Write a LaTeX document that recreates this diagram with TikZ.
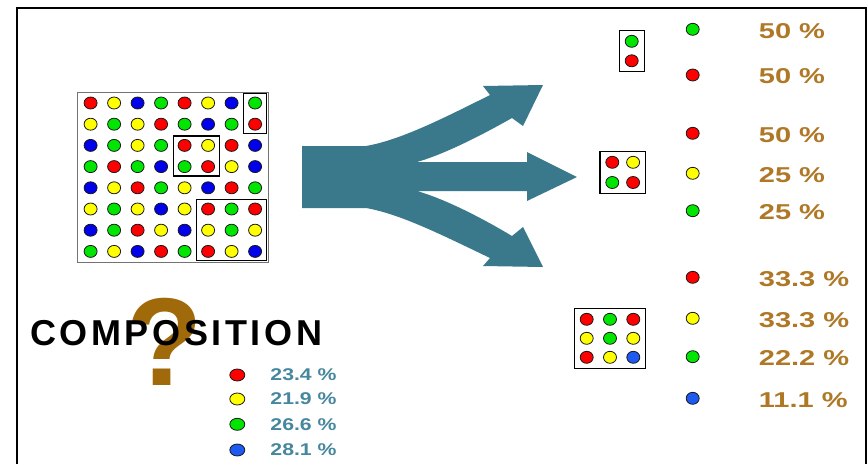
\documentclass[tikz,border=0pt]{standalone}
\usepackage{fontspec}
\setmainfont{Liberation Sans}
\newfontfamily\compfont[LetterSpace=10]{Liberation Sans}
\usetikzlibrary{positioning,fit,shapes.geometric}
\definecolor{cR}{RGB}{255,0,0}
\definecolor{cY}{RGB}{255,255,0}
\definecolor{cG}{RGB}{0,230,0}
\definecolor{cB}{RGB}{0,0,235}
\definecolor{cBl}{RGB}{30,90,240}
\definecolor{flw}{RGB}{58,121,140}
\definecolor{pct}{RGB}{175,120,38}
\definecolor{qst}{RGB}{160,105,10}
\definecolor{lgd}{RGB}{70,135,158}

\begin{document}
\begin{tikzpicture}[x=1pt,y=-1pt,
  dot/.style={ellipse,draw=black!90,line width=0.8pt,inner sep=0pt,minimum width=13pt,minimum height=12pt},
  gridbox/.style={draw=black!55,line width=0.6pt,inner xsep=6pt,inner ysep=4.5pt},
  selbox/.style={draw,line width=1.2pt,inner xsep=4.5pt,inner ysep=3pt},
  smallbox/.style={draw,line width=1.2pt,inner xsep=5.5pt,inner ysep=4.5pt},
  pctlbl/.style={font=\bfseries\fontsize{21.5}{22}\selectfont,text=pct,xscale=1.35,inner sep=0pt,yshift=-1.5pt},
  lgdlbl/.style={font=\bfseries\fontsize{17}{18}\selectfont,text=lgd,xscale=1.25,inner sep=0pt},
  flow/.style={fill=flw}]
  \useasboundingbox (0,0) rectangle (868,464);
  \draw[line width=1.3pt] (17,464) |- (866,8) -- (866,464);
  % mixed sample
  \foreach \row [count=\r] in {{R,Y,B,G,R,Y,B,G},{Y,G,Y,R,G,B,G,R},{B,G,Y,G,R,Y,R,B},{G,R,G,B,G,R,Y,B},{B,Y,R,G,Y,B,R,G},{Y,G,Y,B,Y,R,G,R},{B,G,R,Y,B,Y,G,Y},{G,Y,B,R,G,R,Y,B}}
    \foreach \c [count=\k] in \row
      \node[dot,fill=c\c] (g-\r-\k) at ({90.6+(\k-1)*23.5},{103+(\r-1)*21.2}) {};
  \node[gridbox,fit=(g-1-1)(g-8-8)] (grid) {};
  \node[selbox,fit=(g-1-8)(g-2-8)] (sel2) {};
  \node[selbox,fit=(g-3-5)(g-4-6)] (sel4) {};
  \node[selbox,fit=(g-6-6)(g-8-8)] (sel9) {};
  % splitting arrow
  \fill[flow] (302,146) -- (366,146)
    .. controls (400,140) and (440,120) .. (490,95)
    -- (483,86) -- (543,85) -- (523,126) -- (512,118)
    .. controls (482,135) and (445,154) .. (417,162)
    -- (527,162) -- (527,152) -- (577,177) -- (527,201) -- (527,191) -- (417,191)
    .. controls (445,199) and (482,218) .. (512,236)
    -- (523,227) -- (543,267) -- (483,266) -- (490,258)
    .. controls (440,234) and (400,214) .. (366,208)
    -- (302,208) -- cycle;
  % subsamples
  \node[dot,fill=cG] (a1) at (631.7,41.3) {};
  \node[dot,fill=cR,below=6.7pt of a1] (a2) {};
  \node[smallbox,fit=(a1)(a2)] (boxa) {};
  \node[dot,fill=cR] (b1) at (612.3,162.3) {};
  \node[dot,fill=cY,right=7pt of b1] (b2) {};
  \node[dot,fill=cG,below=7.4pt of b1] (b3) {};
  \node[dot,fill=cR,below=7.4pt of b2] (b4) {};
  \node[smallbox,fit=(b1)(b4)] (boxb) {};
  \foreach \c [count=\k from 0] in {R,G,R,Y,G,Y,R,Y,Bl}
    \node[dot,fill=c\c] (c\k) at ({586.7+mod(\k,3)*23.3},{319.3+int(\k/3)*19}) {};
  \node[smallbox,fit=(c0)(c8)] (boxc) {};
  % fractions
  \foreach \y/\c/\t [count=\i] in {29.3/G/50,75/R/50,133.3/R/50,173.3/Y/25,210.7/G/25,277.3/R/33.3,318.3/Y/33.3,356.7/G/22.2,398.3/Bl/11.1}
  {
    \node[dot,fill=c\c] (d\i) at (692.7,\y) {};
    \node[pctlbl,right=59pt of d\i] (p\i) {\t\ \%};
  }
  \node[font=\bfseries\fontsize{125}{125}\selectfont,text=qst,inner sep=0pt,anchor=base] (qmark) at (165,385) {?};
  \node[font=\compfont\bfseries\fontsize{36}{36}\selectfont,inner sep=0pt,anchor=base west] (title) at (30,345) {COMPOSITION};
  \foreach \y/\c/\t [count=\i] in {375/R/23.4,399/Y/21.9,424.3/G/26.6,450/Bl/28.1}
  {
    \node[dot,minimum width=15pt,fill=c\c] (l\i) at (237.3,\y) {};
    \node[lgdlbl,right=25pt of l\i] (lt\i) {\t\ \%};
  }
\end{tikzpicture}
\end{document}
